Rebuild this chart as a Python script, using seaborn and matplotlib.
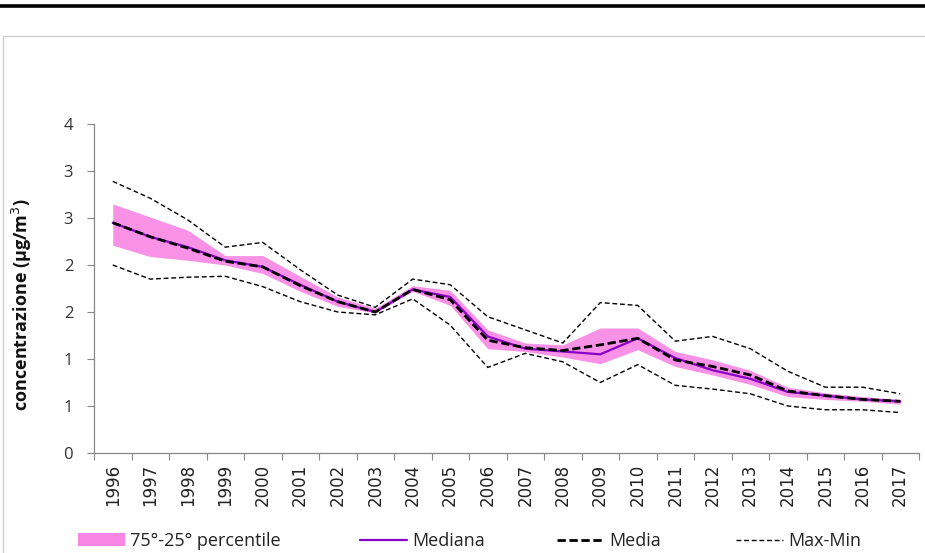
import matplotlib
matplotlib.use("Agg")
import matplotlib.pyplot as plt
import seaborn as sns
import pandas as pd
import numpy as np
from matplotlib.lines import Line2D
from matplotlib.patches import Patch

years = [str(y) for y in range(1996, 2018)]
p75 = [2.65, 2.51, 2.37, 2.10, 2.10, 1.88, 1.66, 1.54, 1.78, 1.73, 1.31, 1.17,
       1.15, 1.33, 1.33, 1.08, 0.99, 0.88, 0.70, 0.64, 0.60, 0.57]
p25 = [2.21, 2.09, 2.05, 2.00, 1.91, 1.72, 1.56, 1.49, 1.72, 1.57, 1.11, 1.08,
       1.02, 0.95, 1.10, 0.92, 0.83, 0.73, 0.60, 0.57, 0.55, 0.52]
mediana = [2.45, 2.30, 2.19, 2.05, 1.98, 1.79, 1.61, 1.50, 1.74, 1.66, 1.24, 1.11,
           1.08, 1.05, 1.22, 1.01, 0.88, 0.79, 0.65, 0.61, 0.57, 0.55]
media = [2.45, 2.30, 2.18, 2.04, 1.98, 1.78, 1.61, 1.50, 1.74, 1.63, 1.20, 1.12,
         1.09, 1.15, 1.22, 0.99, 0.92, 0.83, 0.66, 0.61, 0.57, 0.55]
massimo = [2.89, 2.71, 2.48, 2.19, 2.24, 1.95, 1.68, 1.55, 1.85, 1.79, 1.45, 1.31,
           1.17, 1.60, 1.57, 1.19, 1.24, 1.11, 0.87, 0.70, 0.70, 0.63]
minimo = [2.00, 1.85, 1.87, 1.88, 1.77, 1.61, 1.50, 1.47, 1.64, 1.36, 0.91, 1.06,
          0.97, 0.75, 0.94, 0.72, 0.68, 0.63, 0.50, 0.46, 0.46, 0.43]
ytick_vals = [0, 0.5, 1, 1.5, 2, 2.5, 3, 3.5]
ytick_labels = ["0", "1", "1", "2", "2", "3", "3", "4"]
legend_labels = ["75°-25° percentile", "Mediana", "Media", "Max-Min"]
ylabel = "concentrazione (µg/m$^3$)"

df = pd.DataFrame({"idx": np.arange(len(years)), "p75": p75, "p25": p25,
                   "mediana": mediana, "media": media, "max": massimo, "min": minimo})

sns.set_theme(style="white")
plt.rcParams["font.family"] = ["Open Sans", "DejaVu Sans"]

PINK = "#F986E4"
PURPLE = "#8A00C4"
GRAY = "#888888"

fig = plt.figure(figsize=(9.25, 5.53), dpi=100)
ax = fig.add_axes([94/925, 100/553, 825/925, 329/553])

ax.fill_between(df["idx"], df["p25"], df["p75"], color=PINK, lw=0, alpha=0.9, zorder=1)
sns.lineplot(data=df, x="idx", y="max", ax=ax, color="black", lw=1.0, zorder=2)
ax.lines[-1].set_dashes((3.5, 2))
sns.lineplot(data=df, x="idx", y="min", ax=ax, color="black", lw=1.0, zorder=2)
ax.lines[-1].set_dashes((3.5, 2))
sns.lineplot(data=df, x="idx", y="mediana", ax=ax, color=PURPLE, lw=1.6, zorder=3)
sns.lineplot(data=df, x="idx", y="media", ax=ax, color="black", lw=2.0, zorder=4)
ax.lines[-1].set_dashes((3, 1.3))

ax.set_xlim(-0.5, len(years) - 0.5)
ax.set_ylim(0, 3.5)
ax.set_xticks(np.arange(len(years)))
ax.set_xticklabels(years, rotation=90, fontsize=12, family="DejaVu Sans", color="#222222")
ax.set_xticks(np.arange(len(years) + 1) - 0.5, minor=True)
ax.tick_params(axis="x", which="major", length=0, pad=8)
ax.tick_params(axis="x", which="minor", length=5, width=0.8, color=GRAY, direction="out")
ax.set_yticks(ytick_vals)
ax.set_yticklabels(ytick_labels, fontsize=12, color="#333333")
ax.tick_params(axis="y", length=5, width=0.8, color=GRAY, direction="out", pad=10, left=True)
ax.xaxis.set_tick_params(bottom=True, which="minor")
ax.set_xlabel("")
ax.set_ylabel(ylabel, fontsize=13, fontweight="bold", color="#111111")
ax.yaxis.set_label_coords(-0.073, 0.45)
for s in ["top", "right"]:
    ax.spines[s].set_visible(False)
for s in ["left", "bottom"]:
    ax.spines[s].set_color(GRAY)
    ax.spines[s].set_linewidth(0.9)
ax.grid(False)

# legend entries placed individually
handles = [Patch(facecolor=PINK, edgecolor="none"),
           Line2D([], [], color=PURPLE, lw=1.6),
           Line2D([], [], color="black", lw=2.0, dashes=(3, 1.3)),
           Line2D([], [], color="black", lw=1.0, dashes=(3.5, 2))]
xstarts = [78, 360, 557, 736]
for h, lab, xs in zip(handles, legend_labels, xstarts):
    fig.legend([h], [lab], loc="center left", bbox_to_anchor=(xs/925, 12/553),
               frameon=False, borderpad=0, borderaxespad=0, handlelength=2.6,
               handletextpad=0.3, fontsize=13, labelcolor="#222222")

# decorations: thick top rule and chart frame
fig.add_artist(Line2D([0, 1], [1 - 5.5/553] * 2, color="black", lw=2.6))
fig.add_artist(Line2D([3/925, 1], [1 - 35.5/553] * 2, color="#D0D0D0", lw=1.0))
fig.add_artist(Line2D([3/925, 3/925], [0, 1 - 35.5/553], color="#D0D0D0", lw=1.0))

fig.savefig("out.png", dpi=100)
